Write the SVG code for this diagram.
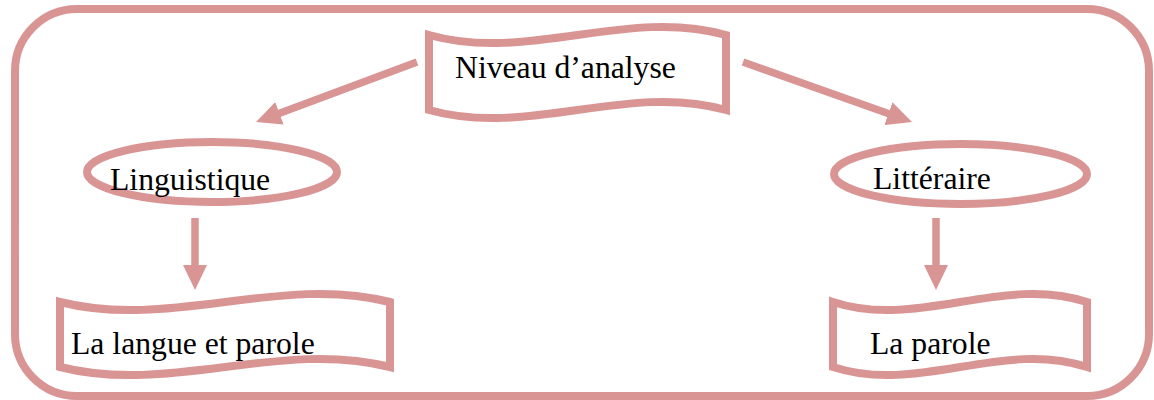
<svg xmlns="http://www.w3.org/2000/svg" width="1154" height="400" viewBox="0 0 1154 400">
  <defs>
    <style>
      .frame { fill: #ffffff; stroke: #D99594; stroke-width: 8; }
      .shape { fill: #ffffff; stroke: #D99594; stroke-width: 8; stroke-linejoin: miter; }
      .link { fill: none; stroke: #D99594; stroke-width: 7.5; }
      .label { font-family: "Liberation Serif", "Times New Roman", serif; font-size: 31.7px; fill: #000000; }
    </style>
    <marker id="head" markerUnits="userSpaceOnUse" markerWidth="25" markerHeight="24" refX="2" refY="12" orient="auto">
      <path d="M0,0 L25,12 L0,24 Z" fill="#D99594"/>
    </marker>
  </defs>

  <!-- outer frame -->
  <rect class="frame" x="15" y="9" width="1134" height="387" rx="62" ry="62"/>

  <!-- connectors -->
  <g id="connectors">
    <line class="link" x1="417" y1="62" x2="277.6" y2="114" marker-end="url(#head)"/>
    <line class="link" x1="743" y1="62" x2="890.3" y2="114.3" marker-end="url(#head)"/>
    <line class="link" x1="195" y1="218" x2="195" y2="267" marker-end="url(#head)"/>
    <line class="link" x1="936" y1="218" x2="936" y2="267" marker-end="url(#head)"/>
  </g>

  <!-- top banner -->
  <g id="niveau">
    <path class="shape" d="M429,35 C528,63 627,7 726,35 L726,110 C627,82 528,138 429,110 Z"/>
    <text class="label" x="455" y="78">Niveau d’analyse</text>
  </g>

  <g id="linguistique">
    <ellipse class="shape" cx="212" cy="172" rx="125" ry="30"/>
    <text class="label" x="110" y="190">Linguistique</text>
  </g>

  <g id="litteraire">
    <ellipse class="shape" cx="960.5" cy="174" rx="126.5" ry="30"/>
    <text class="label" x="873" y="189">Littéraire</text>
  </g>

  <g id="langue-parole">
    <path class="shape" d="M60,302 C170,330 280,274 390,302 L390,367 C280,339 170,395 60,367 Z"/>
    <text class="label" x="71" y="354">La langue et parole</text>
  </g>

  <g id="parole">
    <path class="shape" d="M833,302 C918,330 1002,274 1087,302 L1087,367 C1002,339 918,395 833,367 Z"/>
    <text class="label" x="870" y="354">La parole</text>
  </g>
</svg>
